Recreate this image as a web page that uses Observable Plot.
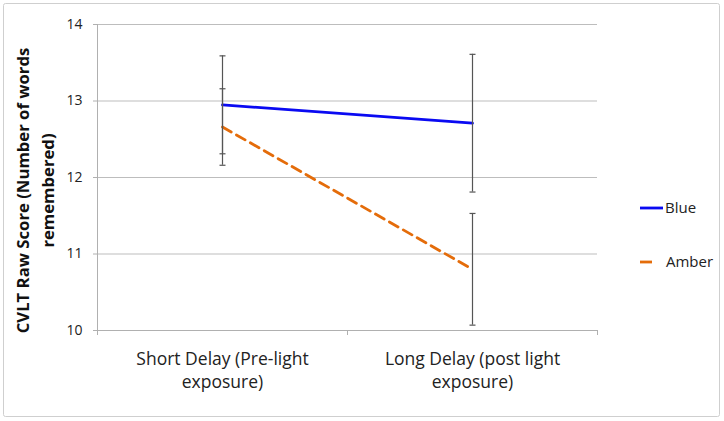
<!DOCTYPE html>
<html><head><meta charset="utf-8">
<script src="https://cdn.jsdelivr.net/npm/d3@7"></script>
<script src="https://cdn.jsdelivr.net/npm/@observablehq/plot@0.6"></script>
<style>body{margin:0;background:#fff} #chart{position:relative;width:724px;height:421px}</style>
</head><body><div id="chart"></div>
<script>
const categories = ["Short Delay (Pre-light\nexposure)", "Long Delay (post light\nexposure)"];
const series = ["Blue", "Amber"];
const blueMeans = [12.95, 12.71];
const blueErrors = [0.64, 0.9];
const amberMeans = [12.66, 10.8];
const amberErrors = [0.5, 0.73];
const yTicks = [10, 11, 12, 13, 14];
const yLabel = "CVLT Raw Score (Number of words\nremembered)";

const colors = {Blue: "#0a0af2", Amber: "#e46c0a"};
const rows = [];
categories.forEach((c, i) => {
  rows.push({cat: i, series: "Blue", mean: blueMeans[i], err: blueErrors[i]});
  rows.push({cat: i, series: "Amber", mean: amberMeans[i], err: amberErrors[i]});
});
const xpos = d => d.cat + 0.5;
const cap = {draw(ctx, size) { const r = Math.sqrt(size / Math.PI); ctx.moveTo(-r, 0); ctx.lineTo(r, 0); }};
const font = "'Open Sans', sans-serif";

const plot = Plot.plot({
  width: 724, height: 421,
  marginLeft: 97, marginRight: 127, marginTop: 24, marginBottom: 91,
  style: {fontFamily: font, background: "transparent"},
  x: {domain: [0, categories.length]},
  y: {domain: [yTicks[0], yTicks[yTicks.length - 1]]},
  marks: [
    Plot.gridY(yTicks.slice(1), {stroke: "#bdbdbd", strokeOpacity: 1}),
    Plot.ruleY([yTicks[0]], {stroke: "#b0b0b0"}),
    Plot.ruleX([0], {stroke: "#b0b0b0"}),
    Plot.axisY({ticks: yTicks, tickSize: 4, tickPadding: 11, tickFormat: d3.format("d"), fontSize: 14, stroke: "#b0b0b0", color: "#222", label: null}),
    Plot.axisX({ticks: d3.range(categories.length + 1), tickSize: 5, tickFormat: () => "", stroke: "#b0b0b0", label: null}),
    Plot.axisX({ticks: categories.map((c, i) => i + 0.5), tickSize: 0, tickPadding: 19, tickFormat: d => categories[Math.floor(d)], fontSize: 17.5, lineHeight: 1.27, color: "#222", label: null}),
    Plot.text([yLabel], {frameAnchor: "left", dx: -64, dy: 13, rotate: -90, textAnchor: "middle", fontSize: 16.7, fontWeight: "bold", fill: "#111", lineHeight: 1.5}),
    Plot.line(rows.filter(d => d.series === "Blue"), {x: xpos, y: "mean", stroke: colors.Blue, strokeWidth: 2.8}),
    Plot.line(rows.filter(d => d.series === "Amber"), {x: xpos, y: "mean", stroke: colors.Amber, strokeWidth: 2.8, strokeDasharray: "10,6"}),
    Plot.ruleX(rows, {x: xpos, y1: d => d.mean - d.err, y2: d => d.mean + d.err, stroke: "#555", strokeWidth: 1.2}),
    Plot.dot(rows, {x: xpos, y: d => d.mean - d.err, symbol: cap, r: 3, stroke: "#555", strokeWidth: 1.2}),
    Plot.dot(rows, {x: xpos, y: d => d.mean + d.err, symbol: cap, r: 3, stroke: "#555", strokeWidth: 1.2})
  ]
});
document.getElementById("chart").appendChild(plot);

const svg = d3.select(plot);
svg.insert("rect", ":first-child").attr("x", 3.5).attr("y", 3.5).attr("width", 716).attr("height", 413)
  .attr("rx", 2).attr("fill", "none").attr("stroke", "#cfcfcf");
const leg = svg.append("g").attr("font-family", font).attr("font-size", 15).attr("text-anchor", "start");
series.forEach((s, i) => {
  const y = 208 + i * 54;
  leg.append("line").attr("x1", 640).attr("x2", s === "Blue" ? 663 : 652).attr("y1", y).attr("y2", y)
    .attr("stroke", colors[s]).attr("stroke-width", 2.8);
  leg.append("text").attr("x", s === "Blue" ? 665 : 666).attr("y", y).attr("dy", "0.35em").attr("fill", "#222").text(s);
});
</script>
</body></html>
